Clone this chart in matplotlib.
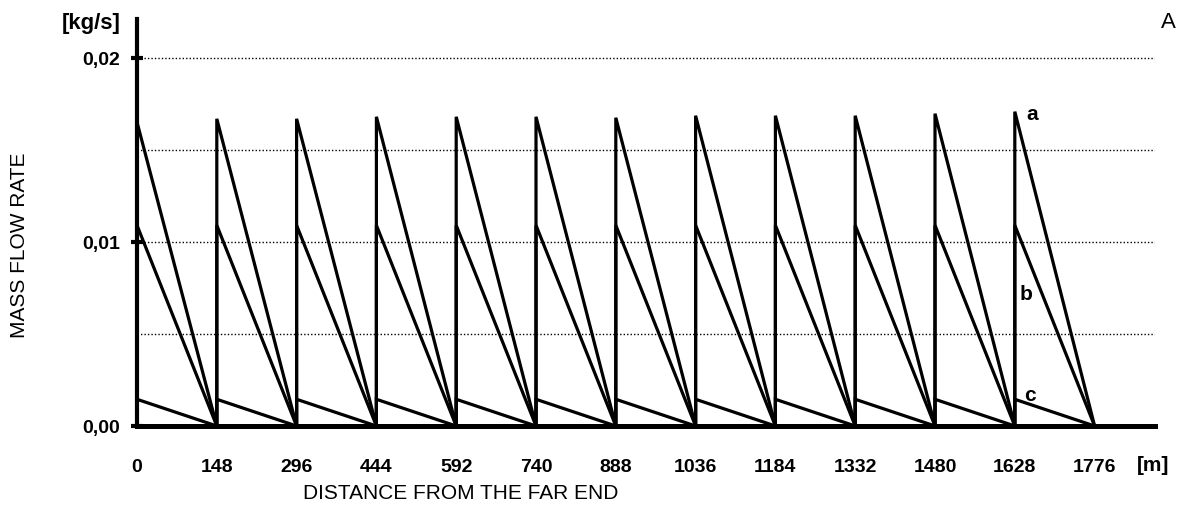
import matplotlib
matplotlib.use("Agg")
import matplotlib.pyplot as plt
import numpy as np

# Data
segment_starts = [0, 148, 296, 444, 592, 740, 888, 1036, 1184, 1332, 1480, 1628]
segment_length = 148
peaks_a = [0.0165, 0.01668, 0.01668, 0.01679, 0.01679, 0.01679, 0.01674,
           0.01685, 0.01685, 0.01685, 0.01696, 0.01707]
peaks_b = [0.0109, 0.0109, 0.0109, 0.0109, 0.0109, 0.0109, 0.0109,
           0.0109, 0.0109, 0.0109, 0.0109, 0.0109]
peaks_c = [0.00145, 0.00145, 0.00145, 0.00145, 0.00145, 0.00145, 0.00145,
           0.00145, 0.00145, 0.00145, 0.00145, 0.00145]
x_ticks = [0, 148, 296, 444, 592, 740, 888, 1036, 1184, 1332, 1480, 1628, 1776]
y_ticks = [0.0, 0.01, 0.02]
y_tick_labels = ["0,00", "0,01", "0,02"]
grid_levels = [0.005, 0.01, 0.015, 0.02]

FONT = ["Liberation Sans", "DejaVu Sans"]

fig = plt.figure(figsize=(11.79, 5.06), dpi=100)
ax = fig.add_axes([137/1179, 1-427/506, (1155-137)/1179, (427-20)/506])


def sawtooth(peaks):
    xs, ys = [], []
    for s, p in zip(segment_starts, peaks):
        xs += [s, s, s + segment_length]
        ys += [0.0, p, 0.0]
    return xs, ys


for lv in grid_levels:
    ax.axhline(lv, color="black", lw=1.0, ls=(0, (1, 1.5)), zorder=1)

for pk in (peaks_a, peaks_b, peaks_c):
    xs, ys = sawtooth(pk)
    ax.plot(xs, ys, color="black", lw=2.3, solid_joinstyle="miter", zorder=3)

ax.set_xlim(0, 1888)
ax.set_ylim(0, 0.0221)

for side in ("top", "right"):
    ax.spines[side].set_visible(False)
ax.spines["left"].set_linewidth(3.0)
ax.spines["bottom"].set_linewidth(3.6)
ax.spines["left"].set_zorder(4)
ax.spines["bottom"].set_zorder(4)

ax.set_xticks(x_ticks)
ax.set_xticklabels([str(v) for v in x_ticks], fontfamily=FONT, fontweight="bold", fontsize=14)
ax.tick_params(axis="x", length=0, pad=23)
ax.set_yticks(y_ticks)
ax.set_yticklabels(y_tick_labels, fontfamily=FONT, fontweight="bold", fontsize=14)
ax.tick_params(axis="y", direction="inout", length=9, width=3, pad=8)

fig.text(461/1179, 1-494/506, "DISTANCE FROM THE FAR END", ha="center", va="center",
         fontfamily=FONT, fontsize=15)
fig.text(20/1179, 1-245/506, "MASS FLOW RATE", ha="center", va="center",
         rotation=90, fontfamily=FONT, fontsize=15)

fig.text(121/1179, 1-24/506, "[kg/s]", ha="right", va="center",
         fontfamily=FONT, fontweight="bold", fontsize=16)
fig.text(1169/1179, 1-466/506, "[m]", ha="right", va="center",
         fontfamily=FONT, fontweight="bold", fontsize=15)
fig.text(1168/1179, 1-22/506, "A", ha="center", va="center",
         fontfamily=FONT, fontsize=16)

ax.text(1650, 0.01695, "a", fontfamily=FONT, fontweight="bold", fontsize=15,
        ha="left", va="center")
ax.text(1636, 0.0072, "b", fontfamily=FONT, fontweight="bold", fontsize=15,
        ha="left", va="center")
ax.text(1645, 0.0017, "c", fontfamily=FONT, fontweight="bold", fontsize=15,
        ha="left", va="center")

fig.savefig("out.png", dpi=100)
